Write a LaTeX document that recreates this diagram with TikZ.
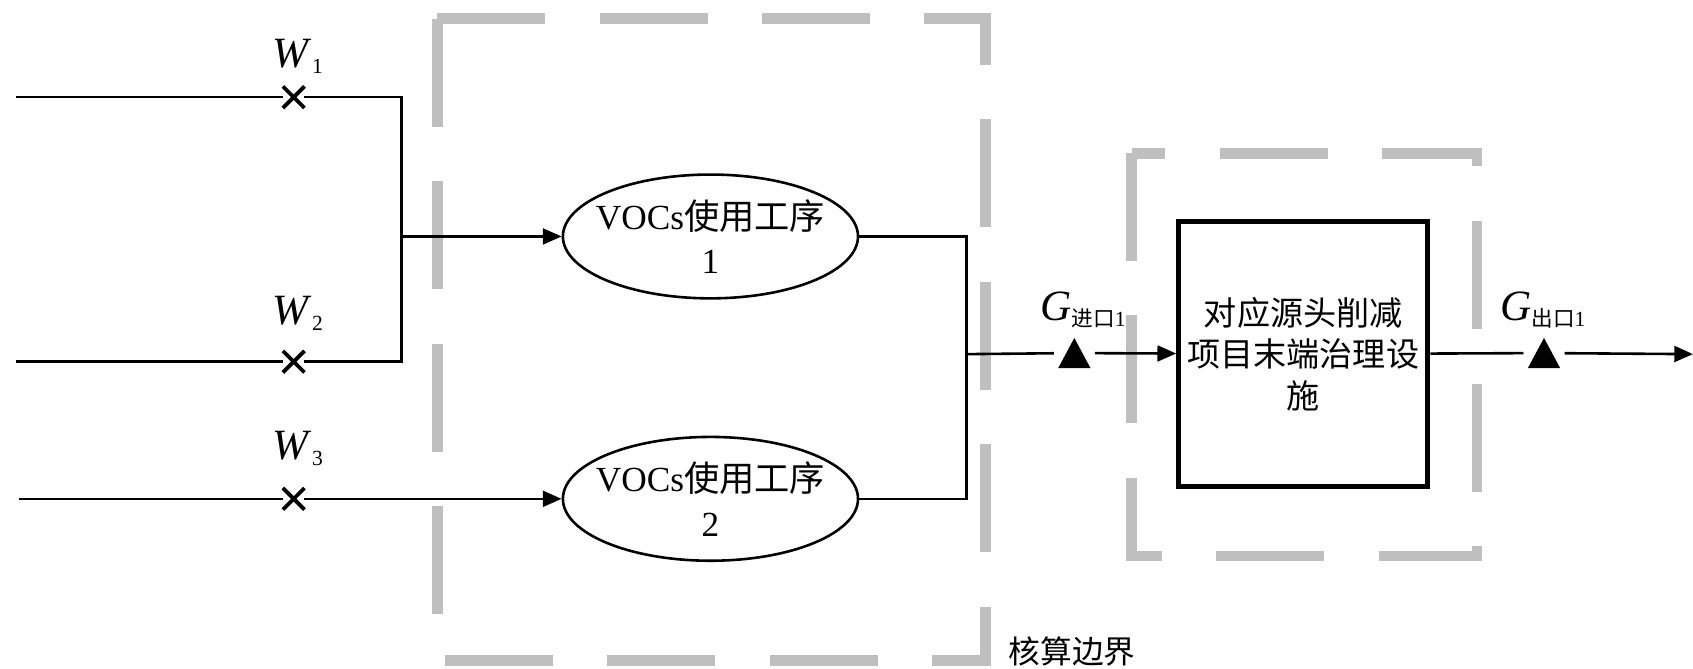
\documentclass[tikz,border=0pt]{standalone}
\usepackage{fontspec}
\setmainfont{Liberation Serif}
\newfontfamily\cjk{Noto Sans CJK SC}
\usetikzlibrary{shapes.geometric,shapes.misc,arrows.meta}

\definecolor{boundgray}{RGB}{191,191,191}
\newcommand{\flowvar}[2]{\textit{#1}\raisebox{-0.3ex}{\fontsize{15}{15}\selectfont #2}}

\tikzset{every picture/.style={line width=1.8pt}}
\tikzset{
  boundary/.style={draw=boundgray,line width=7.5pt},
  proc/.style={draw,ellipse,minimum width=205pt,minimum height=86pt,inner xsep=-7.5pt,inner ysep=0pt,align=center,font=\fontsize{24.5}{31}\selectfont},
  meter/.style={draw,cross out,minimum size=15pt,inner sep=0pt,outer sep=0pt,line width=2.6pt},
  probe/.style={minimum width=22.5pt,minimum height=21pt,inner sep=0pt,outer sep=3pt,
    path picture={\fill (path picture bounding box.south west) -- (path picture bounding box.south east) -- (path picture bounding box.north) -- cycle;}},
  flow/.style={-{Triangle[length=13pt,width=11pt]}},
  varlabel/.style={font=\fontsize{30}{30}\selectfont}
}

\begin{document}
\begin{tikzpicture}[x=0.75pt,y=0.75pt,yscale=-1,xscale=1]
\useasboundingbox (0,0) rectangle (1568,619.6);

%Shape: Rectangle [id:accounting boundary]
\draw [boundary,dash pattern=on 75pt off 37.8pt] (405,17) -- (913,17) -- (913,612) -- (405,612) -- cycle;
%Shape: Rectangle [id:treatment boundary]
\draw [boundary,dash pattern=on 75pt off 37.95pt,dash phase=51.75pt] (1048,142) -- (1368,142) -- (1368,515) -- (1048,515) -- cycle;

%Shape: Ellipse [id:process 1]
\node [proc] (p1) at (658,219) {VOCs{\cjk 使用工序}\\1};
%Shape: Ellipse [id:process 2]
\node [proc] (p2) at (658,462) {VOCs{\cjk 使用工序}\\2};
%Shape: Rectangle [id:treatment]
\node [draw,line width=3.5pt,minimum width=173pt,minimum height=184pt,inner sep=0pt,align=center,font=\fontsize{23}{29}\selectfont\cjk] (tail) at (1207,328) {对应源头削减\\项目末端治理设\\施};

% Metering points
\node [meter] (w1) at (272,90) {};
\node [meter] (w2) at (272,335) {};
\node [meter] (w3) at (272,462) {};
\node [probe] (gin) at (995,327) {};
\node [probe] (gout) at (1430,327) {};

% Corners
\coordinate (w1in) at (15,90);
\coordinate (w2in) at (15,335);
\coordinate (w3in) at (18,462);
\coordinate (w1c) at (372,90);
\coordinate (w2c) at (372,335);
\coordinate (j1) at (372,219);
\coordinate (p1c) at (895,219);
\coordinate (p2c) at (895,462);
\coordinate (jout) at (895,328);
\coordinate (gend) at (1568,328);

%Straight Lines [id:inputs]
\draw (w1in) -- (w1) -- (w1c) -- (j1);
\draw (w2in) -- (w2) -- (w2c) -- (j1);
\draw [flow] (j1) -- (p1);
\draw (w3in) -- (w3);
\draw [flow] (w3) -- (p2);

%Straight Lines [id:outputs]
\draw (p1.east) -- (p1c) -- (jout);
\draw (p2.east) -- (p2c) -- (jout);
\draw (jout) -- (gin);
\draw [flow] (gin) -- (tail);
\draw (tail) -- (gout);
\draw [flow] (gout) -- (gend);

% Text Node
\node [varlabel] (lw1) at (276,52) {\flowvar{W}{1}};
% Text Node
\node [varlabel] (lw2) at (276,290) {\flowvar{W}{2}};
% Text Node
\node [varlabel] (lw3) at (276,415) {\flowvar{W}{3}};
% Text Node
\node [varlabel] (lgin) at (1003,287) {\flowvar{G}{{\cjk 进口}1}};
% Text Node
\node [varlabel] (lgout) at (1429,287) {\flowvar{G}{{\cjk 出口}1}};
% Text Node
\node [anchor=west,inner sep=0pt,font=\fontsize{22}{22}\selectfont\cjk] (lbound) at (933,603) {核算边界};

\end{tikzpicture}
\end{document}
